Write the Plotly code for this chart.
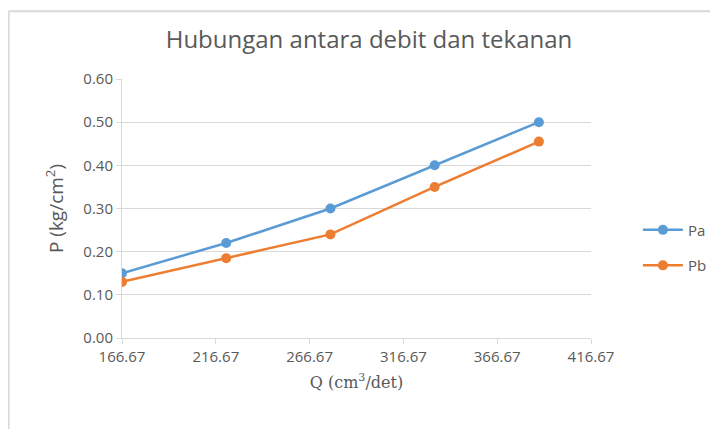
import plotly.graph_objects as go

q = [166.67, 222.22, 277.78, 333.33, 388.89]
pa = [0.15, 0.22, 0.30, 0.40, 0.50]
pb = [0.13, 0.185, 0.24, 0.35, 0.455]
x_ticks = [166.67, 216.67, 266.67, 316.67, 366.67, 416.67]
y_ticks = [0.0, 0.1, 0.2, 0.3, 0.4, 0.5, 0.6]

font_main = "Open Sans"
grey = "#595959"

fig = go.Figure()
fig.add_trace(go.Scatter(x=q, y=pa, name="Pa", mode="lines+markers", legendgroup="a",
                         line=dict(color="#5B9BD5", width=2.5),
                         marker=dict(color="#5B9BD5", size=10)))
fig.add_trace(go.Scatter(x=q, y=pb, name="Pb", mode="lines+markers", legendgroup="b",
                         line=dict(color="#ED7D31", width=2.5),
                         marker=dict(color="#ED7D31", size=10)))

fig.update_layout(
    width=718, height=429,
    margin=dict(l=114, r=135, t=71, b=99),
    paper_bgcolor="white", plot_bgcolor="white",
    font=dict(family=font_main, color=grey, size=15),
    title=dict(text="Hubungan antara debit dan tekanan", x=(369 - 8) / 718, xanchor="center",
               y=1 - (40 - 8) / 429, yanchor="middle",
               font=dict(size=24, color=grey, family=font_main)),
    legend=dict(x=1.10, y=0.349, xanchor="left", yanchor="middle",
                font=dict(size=15, color=grey, family=font_main), tracegroupgap=13,
                traceorder="grouped", itemwidth=40),
    showlegend=True,
)
fig.update_xaxes(
    range=[166.67, 416.67], tickvals=x_ticks, ticktext=[f"{v:.2f}" for v in x_ticks],
    showgrid=False, showline=True, linecolor="#D9D9D9", linewidth=1,
    ticks="outside", ticklen=5, tickcolor="#D9D9D9", zeroline=False,
    tickfont=dict(size=15, color=grey, family=font_main),
    title=dict(text="Q (cm<sup>3</sup>/det)", standoff=11,
               font=dict(family="DejaVu Serif", size=16, color=grey)),
)
fig.update_yaxes(
    range=[0, 0.6], tickvals=y_ticks, ticktext=[f"{v:.2f}" for v in y_ticks],
    showgrid=True, gridcolor="#D9D9D9", gridwidth=1,
    showline=True, linecolor="#D9D9D9", linewidth=1,
    ticks="outside", ticklen=5, tickcolor="#D9D9D9", zeroline=False,
    tickfont=dict(size=15, color=grey, family=font_main),
    title=dict(text="P (kg/cm<sup>2</sup>)", standoff=14,
               font=dict(size=19, color=grey, family=font_main)),
)
# chart-area border (left and top edges visible)
fig.add_shape(type="line", xref="paper", yref="paper", x0=-0.2417, x1=-0.2417, y0=1.262, y1=-0.40,
              line=dict(color="#D9D9D9", width=2))
fig.add_shape(type="line", xref="paper", yref="paper", x0=-0.2417, x1=1.30, y0=1.262, y1=1.262,
              line=dict(color="#D9D9D9", width=2))

fig.write_html("out.html")
